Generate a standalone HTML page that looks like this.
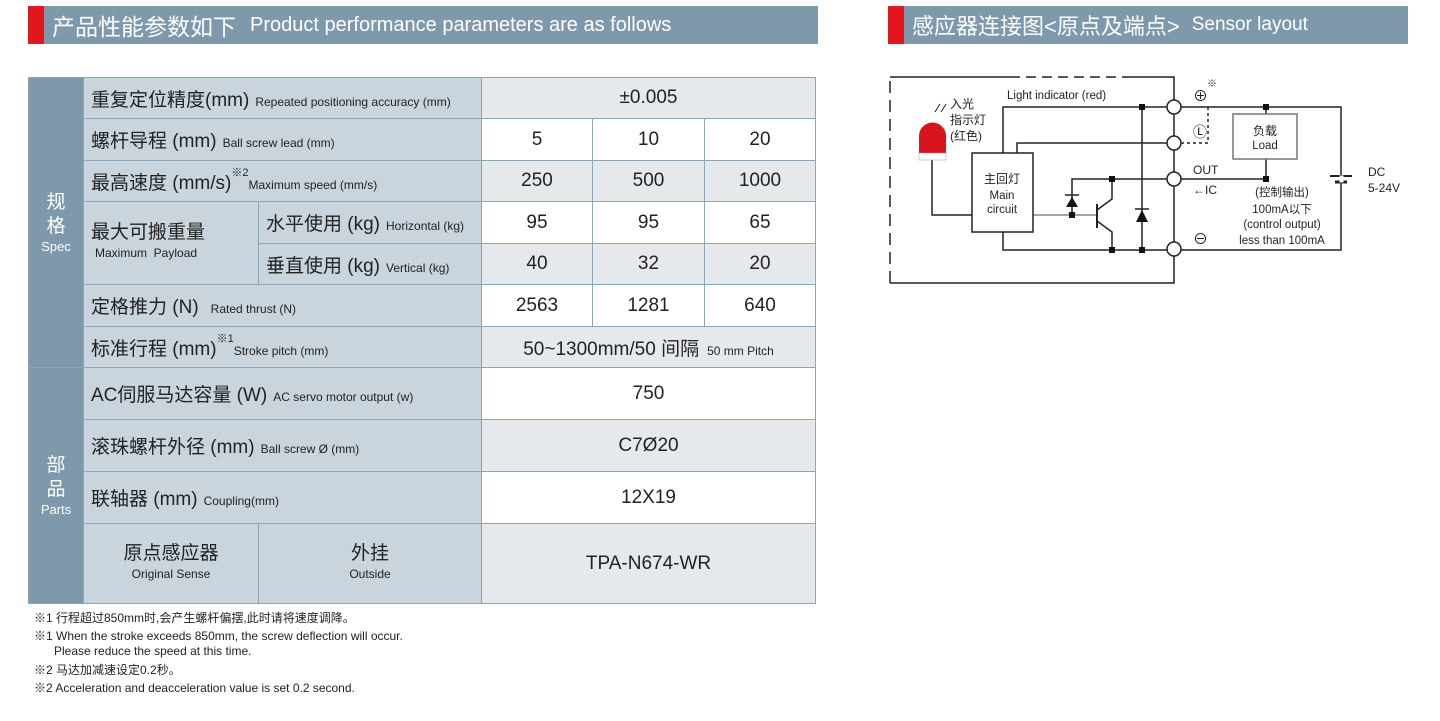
<!DOCTYPE html>
<html><head><meta charset="utf-8"><style>
*{margin:0;padding:0;box-sizing:border-box}
body{width:1440px;height:721px;background:#fff;position:relative;overflow:hidden;font-family:"Liberation Sans","Noto Sans CJK SC",sans-serif;color:#222}
.a{position:absolute}
.hdr{background:#7e99ac;color:#fff;height:38px;top:6px;display:flex;align-items:center}
.hdr .r{width:16px;height:38px;background:#e3151d;margin-right:8px}
.c{position:absolute;border:1px solid #8ea5b5;display:flex;align-items:center}
.lab{background:#c9d4dd;padding-left:7px;font-size:19px}
.lab small{font-size:12px;margin-left:6px}
.g{background:#e5e9ec;justify-content:center;font-size:19px}
.w{background:#fff;justify-content:center;font-size:19px}
.cat{background:#7e99ac;color:#fff;flex-direction:column;justify-content:center;font-size:19px;line-height:24px;text-align:center}
.cat span{font-size:13px;line-height:16px}
.note{position:absolute;left:34px;font-size:12px;color:#222}
sup{font-size:11px;position:relative;top:-4px;vertical-align:top}
</style></head><body>
<div class="a hdr" style="left:28px;width:790px"><div class="r"></div><span style="font-size:23px">产品性能参数如下</span><span style="font-size:20px;margin-left:14px">Product performance parameters are as follows</span></div>
<div class="a hdr" style="left:888px;width:520px"><div class="r"></div><span style="font-size:22px">感应器连接图&lt;原点及端点&gt;</span><span style="font-size:19px;margin-left:12px">Sensor layout</span></div>

<div class="c cat" style="left:28px;top:77px;width:56px;height:291px">规<br>格<span>Spec</span></div>
<div class="c cat" style="left:28px;top:367px;width:56px;height:237px">部<br>品<span>Parts</span></div>

<div class="c lab" style="left:83px;top:77px;width:399px;height:42px"><span>重复定位精度(mm)<small>Repeated positioning accuracy (mm)</small></span></div>
<div class="c lab" style="left:83px;top:118px;width:399px;height:43px"><span>螺杆导程 (mm)<small>Ball screw lead (mm)</small></span></div>
<div class="c lab" style="left:83px;top:160px;width:399px;height:42px"><span>最高速度 (mm/s)<sup>※2</sup><small style="margin-left:0">Maximum speed (mm/s)</small></span></div>
<div class="c lab" style="left:83px;top:201px;width:176px;height:84px;flex-direction:column;align-items:flex-start;justify-content:center;line-height:20px">最大可搬重量<small style="margin:0 0 0 4px">Maximum&nbsp; Payload</small></div>
<div class="c lab" style="left:258px;top:201px;width:224px;height:43px"><span>水平使用 (kg)<small>Horizontal (kg)</small></span></div>
<div class="c lab" style="left:258px;top:243px;width:224px;height:42px"><span>垂直使用 (kg)<small>Vertical (kg)</small></span></div>
<div class="c lab" style="left:83px;top:284px;width:399px;height:43px"><span>定格推力 (N)<small style="margin-left:12px">Rated thrust (N)</small></span></div>
<div class="c lab" style="left:83px;top:326px;width:399px;height:42px"><span>标准行程 (mm)<sup>※1</sup><small style="margin-left:0">Stroke pitch (mm)</small></span></div>
<div class="c lab" style="left:83px;top:367px;width:399px;height:53px"><span>AC伺服马达容量 (W)<small>AC servo motor output (w)</small></span></div>
<div class="c lab" style="left:83px;top:419px;width:399px;height:53px"><span>滚珠螺杆外径 (mm)<small>Ball screw Ø (mm)</small></span></div>
<div class="c lab" style="left:83px;top:471px;width:399px;height:53px"><span>联轴器 (mm)<small>Coupling(mm)</small></span></div>
<div class="c lab" style="left:83px;top:523px;width:176px;height:81px;flex-direction:column;justify-content:center;padding:0;line-height:20px">原点感应器<small style="margin:0">Original Sense</small></div>
<div class="c lab" style="left:258px;top:523px;width:224px;height:81px;flex-direction:column;justify-content:center;padding:0;line-height:20px">外挂<small style="margin:0">Outside</small></div>

<div class="c g" style="left:481px;top:77px;width:335px;height:42px">±0.005</div>
<div class="c w" style="left:481px;top:118px;width:112px;height:43px">5</div><div class="c w" style="left:592px;top:118px;width:113px;height:43px">10</div><div class="c w" style="left:704px;top:118px;width:112px;height:43px">20</div>
<div class="c g" style="left:481px;top:160px;width:112px;height:42px">250</div><div class="c g" style="left:592px;top:160px;width:113px;height:42px">500</div><div class="c g" style="left:704px;top:160px;width:112px;height:42px">1000</div>
<div class="c w" style="left:481px;top:201px;width:112px;height:43px">95</div><div class="c w" style="left:592px;top:201px;width:113px;height:43px">95</div><div class="c w" style="left:704px;top:201px;width:112px;height:43px">65</div>
<div class="c g" style="left:481px;top:243px;width:112px;height:42px">40</div><div class="c g" style="left:592px;top:243px;width:113px;height:42px">32</div><div class="c g" style="left:704px;top:243px;width:112px;height:42px">20</div>
<div class="c w" style="left:481px;top:284px;width:112px;height:43px">2563</div><div class="c w" style="left:592px;top:284px;width:113px;height:43px">1281</div><div class="c w" style="left:704px;top:284px;width:112px;height:43px">640</div>
<div class="c g" style="left:481px;top:326px;width:335px;height:42px"><span>50~1300mm/50 间隔<small style="font-size:12px;margin-left:8px">50 mm Pitch</small></span></div>
<div class="c w" style="left:481px;top:367px;width:335px;height:53px">750</div>
<div class="c g" style="left:481px;top:419px;width:335px;height:53px">C7Ø20</div>
<div class="c w" style="left:481px;top:471px;width:335px;height:53px">12X19</div>
<div class="c g" style="left:481px;top:523px;width:335px;height:81px">TPA-N674-WR</div>

<div class="note" style="top:609px">※1 行程超过850mm时,会产生螺杆偏摆,此时请将速度调降。</div>
<div class="note" style="top:627px">※1 When the stroke exceeds 850mm, the screw deflection will occur.</div>
<div class="note" style="top:644px;left:54px">Please reduce the speed at this time.</div>
<div class="note" style="top:661px">※2 马达加减速设定0.2秒。</div>
<div class="note" style="top:679px">※2 Acceleration and deacceleration value is set 0.2 second.</div>

<svg class="a" style="left:0;top:0" width="1440" height="721" font-family="Liberation Sans, Noto Sans CJK SC, sans-serif" fill="none" stroke="#222" stroke-width="1.5">
<path d="M890 77H1010" /><path d="M1010 77H1130" stroke-dasharray="10 6"/><path d="M1130 77H1174V283H890"/>
<path d="M890 283V77" stroke-dasharray="12 7"/>
<path d="M1003 153V107H1341V250H1003V232"/>
<path d="M1017 153V143H1174"/>
<path d="M1181 143H1208V107" stroke-dasharray="3 3"/>
<path d="M1142 107V250"/>
<path d="M932 160V215H972"/>
<path d="M1033 215H1097" stroke="#888"/>
<path d="M1072 215V179H1174"/>
<path d="M1097 204V228" stroke-width="2"/>
<path d="M1097 210L1112 199V179M1097 221L1112 232V250"/>
<path d="M1266 107V114M1266 159V179H1174"/>
<rect x="972" y="153" width="61" height="79" fill="#fff"/>
<rect x="1233" y="114" width="64" height="45" fill="#fff" stroke="#777"/>
<g fill="#111" stroke="none">
<rect x="1139" y="104" width="6" height="6"/><rect x="1263" y="104" width="6" height="6"/><rect x="1263" y="176" width="6" height="6"/>
<rect x="1109" y="176" width="6" height="6"/><rect x="1069" y="212" width="6" height="6"/><rect x="1109" y="247" width="6" height="6"/><rect x="1139" y="247" width="6" height="6"/>
<path d="M1066 207H1078L1072 197Z"/><path d="M1136 222H1148L1142 210Z"/>
</g>
<path d="M1065 195H1079M1135 209H1149"/>
<path d="M1330 176H1352" stroke-width="2"/><path d="M1335 182H1347" stroke-width="3"/>
<rect x="1341" y="177" width="1" height="4" stroke="#fff" stroke-width="3"/>
<g fill="#fff"><circle cx="1174" cy="107" r="7"/><circle cx="1174" cy="143" r="7"/><circle cx="1174" cy="179" r="7"/><circle cx="1174" cy="249" r="7"/></g>
<path d="M919 153V136A13.5 13.5 0 0 1 946 136V153Z" fill="#d8131b" stroke="none"/>
<rect x="919" y="153" width="27" height="7" fill="#fff" stroke="#999" stroke-width="0.5"/>
<path d="M935 112L940 104M941 112L946 104" stroke-width="1"/>
<g fill="#222" stroke="none" font-size="11.5">
<text x="1007" y="99">Light indicator (red)</text>
<text x="950" y="108" font-size="12">入光</text><text x="950" y="124" font-size="12">指示灯</text><text x="950" y="140" font-size="12">(红色)</text>
<text x="1002" y="183" text-anchor="middle" font-size="12">主回灯</text><text x="1002" y="199" text-anchor="middle">Main</text><text x="1002" y="213" text-anchor="middle">circuit</text>
<text x="1265" y="135" text-anchor="middle" font-size="12">负载</text><text x="1265" y="149" text-anchor="middle">Load</text>
<text x="1193" y="101" font-size="15">⊕</text><text x="1207" y="87" font-size="10">※</text>
<text x="1193" y="137" font-size="14">Ⓛ</text>
<text x="1193" y="174" font-size="12">OUT</text><text x="1193" y="194" font-size="12">←IC</text>
<text x="1193" y="244" font-size="15">⊖</text>
<text x="1368" y="176" font-size="12">DC</text><text x="1368" y="192" font-size="12">5-24V</text>
<text x="1282" y="196" text-anchor="middle">(控制输出)</text><text x="1282" y="213" text-anchor="middle">100mA以下</text>
<text x="1282" y="228" text-anchor="middle">(control output)</text><text x="1282" y="244" text-anchor="middle">less than 100mA</text>
</g>
</svg>
</body></html>
